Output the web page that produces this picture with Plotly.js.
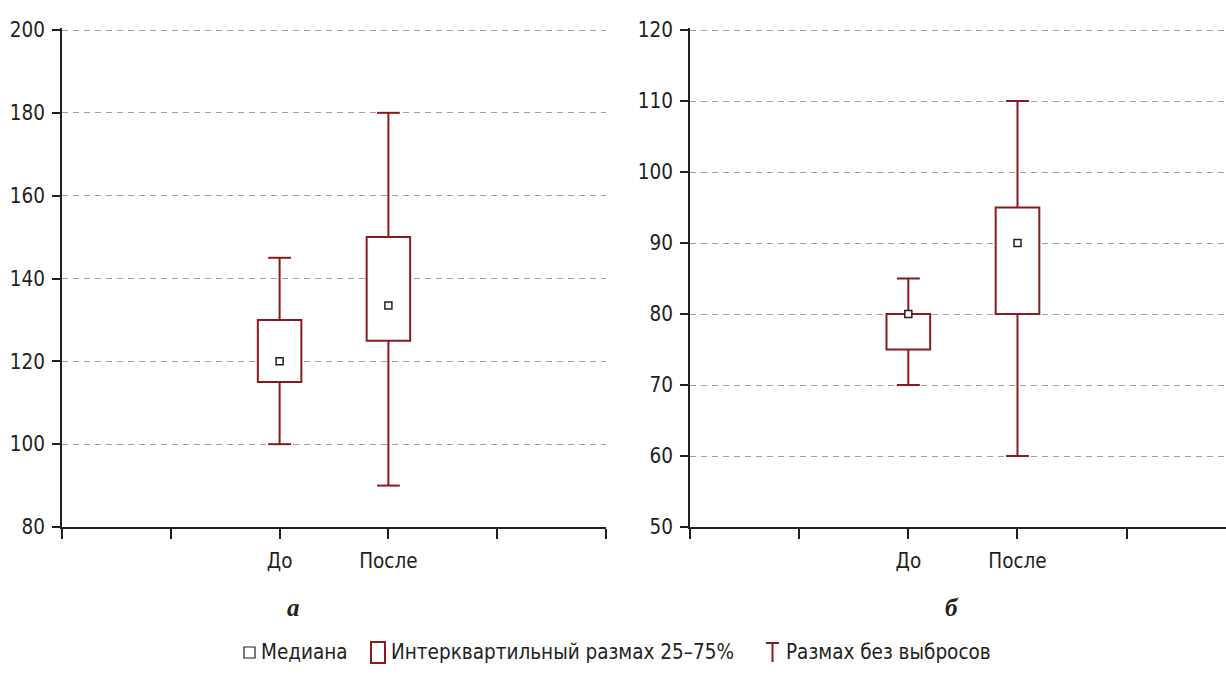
<!DOCTYPE html>
<html>
<head>
<meta charset="utf-8">
<script src="https://cdn.plot.ly/plotly-3.0.1.min.js"></script>
<style>
html,body{margin:0;padding:0;background:#fff;}
#chart{width:1226px;height:693px;}
</style>
</head>
<body>
<div id="chart"></div>
<script>
// ---- data ----
const groupLabels = ["До", "После"];
const groupPos = [2, 3];
const tickVals = [0, 1, 2, 3, 4, 5];
const tickText = ["", "", "До", "После", "", ""];

// panel а
const a_lower = [100, 90];
const a_q1 = [115, 125];
const a_median = [120, 133.5];
const a_q3 = [130, 150];
const a_upper = [145, 180];

// panel б
const b_lower = [70, 60];
const b_q1 = [75, 80];
const b_median = [80, 90];
const b_q3 = [80, 95];
const b_upper = [85, 110];

const legendLabels = ["Медиана", "Интерквартильный размах 25–75%", "Размах без выбросов"];
const panelLabels = ["а", "б"];

// ---- style ----
const RED = "#8b1a1f";
const AX = "#231f20";
const FONT = "'DejaVu Sans Condensed', 'Liberation Sans Narrow', Arial, sans-serif";
const FS = 20.5;
const W = 1226, H = 693;
const BOXW = 0.4, CAPHALF = 0.105;

function boxTrace(xa, ya, q1, q3) {
  return {
    type: "bar", xaxis: xa, yaxis: ya,
    x: groupPos, base: q1, y: q3.map((v, i) => v - q1[i]),
    width: BOXW,
    marker: {color: "white", line: {color: RED, width: 2}},
    showlegend: false, hoverinfo: "skip"
  };
}
function whiskerTrace(xa, ya, lower, q1, q3, upper) {
  const xs = [], ys = [];
  groupPos.forEach((g, i) => {
    xs.push(g, g, null, g - CAPHALF, g + CAPHALF, null);
    ys.push(q3[i], upper[i], null, upper[i], upper[i], null);
    xs.push(g, g, null, g - CAPHALF, g + CAPHALF, null);
    ys.push(q1[i], lower[i], null, lower[i], lower[i], null);
  });
  return {
    type: "scatter", mode: "lines", xaxis: xa, yaxis: ya,
    x: xs, y: ys, line: {color: RED, width: 2}, connectgaps: false,
    showlegend: false, hoverinfo: "skip"
  };
}
function medTrace(xa, ya, med) {
  return {
    type: "scatter", mode: "markers", xaxis: xa, yaxis: ya,
    x: groupPos, y: med,
    marker: {symbol: "square", size: 7, color: "white", line: {color: AX, width: 1.5}},
    showlegend: false, hoverinfo: "skip", cliponaxis: false
  };
}

const data = [
  whiskerTrace("x", "y", a_lower, a_q1, a_q3, a_upper),
  boxTrace("x", "y", a_q1, a_q3),
  medTrace("x", "y", a_median),
  whiskerTrace("x2", "y2", b_lower, b_q1, b_q3, b_upper),
  boxTrace("x2", "y2", b_q1, b_q3),
  medTrace("x2", "y2", b_median)
];

const yDom = [1 - 527 / H, 1 - 28 / H];
function xAxis(dom, range, anchor) {
  return {
    domain: dom, range: range, anchor: anchor,
    tickmode: "array", tickvals: tickVals, ticktext: tickText,
    showline: true, linecolor: AX, linewidth: 2,
    ticks: "outside", ticklen: 10, tickwidth: 2, tickcolor: AX,
    ticklabelstandoff: 4,
    showgrid: false, zeroline: false, automargin: false, fixedrange: true,
    tickfont: {family: FONT, size: FS, color: AX}
  };
}
function yAxis(range, dtick, anchor) {
  return {
    domain: yDom, range: range, anchor: anchor, dtick: dtick, tick0: range[0],
    showline: true, linecolor: AX, linewidth: 2,
    ticks: "outside", ticklen: 8, tickwidth: 2, tickcolor: AX,
    ticklabelstandoff: 3,
    showgrid: true, gridcolor: "#a0a0a0", griddash: "6px,5px", gridwidth: 1,
    zeroline: false, automargin: false, fixedrange: true,
    tickfont: {family: FONT, size: FS, color: AX}
  };
}

const px = v => v / W, py = v => 1 - v / H;

const layout = {
  width: W, height: H,
  margin: {l: 0, r: 0, t: 0, b: 0, pad: 0},
  paper_bgcolor: "white", plot_bgcolor: "white",
  showlegend: false, barmode: "overlay",
  xaxis: xAxis([62 / W, 606 / W], [0, 5], "y"),
  yaxis: yAxis([80, 200.483], 20, "x"),
  xaxis2: xAxis([690 / W, 1], [0, 4.91], "y2"),
  yaxis2: yAxis([50, 120.282], 10, "x2"),
  annotations: [
    {xref: "paper", yref: "paper", x: px(293), y: py(607), text: "<b><i>" + panelLabels[0] + "</i></b>",
     showarrow: false, xanchor: "center", yanchor: "middle",
     font: {family: "'Liberation Serif', 'DejaVu Serif', serif", size: 25, color: AX}},
    {xref: "paper", yref: "paper", x: px(952), y: py(607), text: "<b><i>" + panelLabels[1] + "</i></b>",
     showarrow: false, xanchor: "center", yanchor: "middle",
     font: {family: "'Liberation Serif', 'DejaVu Serif', serif", size: 25, color: AX}},
    {xref: "paper", yref: "paper", x: px(259), y: py(652), text: legendLabels[0],
     showarrow: false, xanchor: "left", yanchor: "middle", font: {family: FONT, size: FS, color: AX}},
    {xref: "paper", yref: "paper", x: px(389), y: py(652), text: legendLabels[1],
     showarrow: false, xanchor: "left", yanchor: "middle", font: {family: FONT, size: FS, color: AX}},
    {xref: "paper", yref: "paper", x: px(784), y: py(652), text: legendLabels[2],
     showarrow: false, xanchor: "left", yanchor: "middle", font: {family: FONT, size: FS, color: AX}}
  ],
  shapes: [
    {type: "rect", xref: "paper", yref: "paper", x0: px(244), x1: px(255), y0: py(658), y1: py(647),
     line: {color: AX, width: 1.2}, fillcolor: "white"},
    {type: "rect", xref: "paper", yref: "paper", x0: px(371), x1: px(385), y0: py(663), y1: py(642),
     line: {color: RED, width: 2}, fillcolor: "white"},
    {type: "line", xref: "paper", yref: "paper", x0: px(766), x1: px(779), y0: py(643), y1: py(643),
     line: {color: RED, width: 2}},
    {type: "line", xref: "paper", yref: "paper", x0: px(772.5), x1: px(772.5), y0: py(643), y1: py(662),
     line: {color: RED, width: 2}}
  ]
};

Plotly.newPlot("chart", data, layout, {displayModeBar: false, staticPlot: true});
</script>
</body>
</html>
